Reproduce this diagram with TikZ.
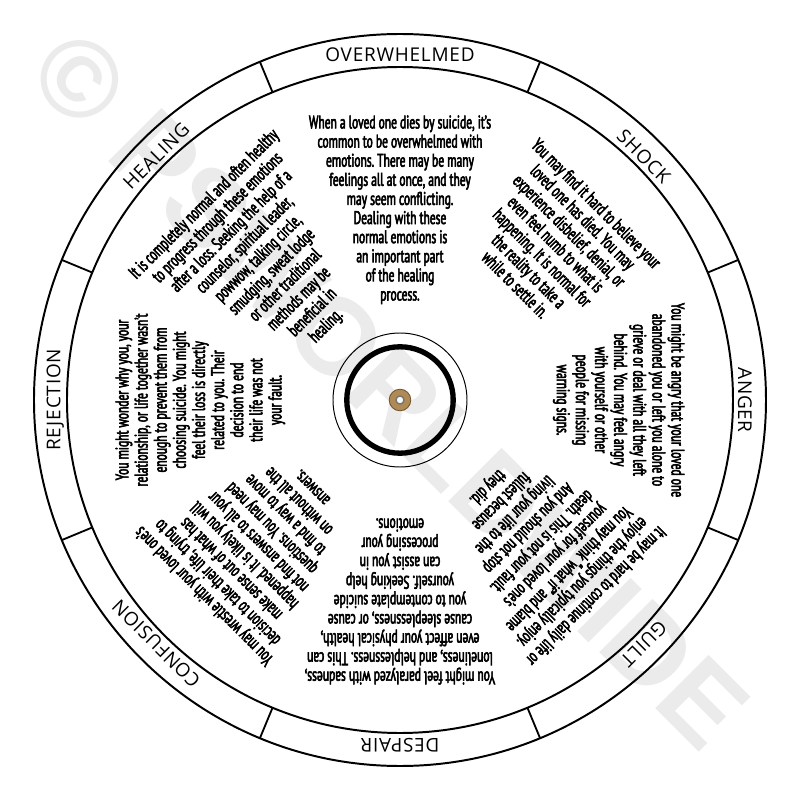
\documentclass[tikz,border=0pt]{standalone}
\usepackage{fontspec}
\usepackage{xcolor}
\usetikzlibrary{positioning}
\newfontfamily\wheelfont[FakeStretch=0.63,FakeBold=3]{PT Sans}
\newfontfamily\labelfont[LetterSpace=4]{Open Sans}
\newfontfamily\markfont{Liberation Sans}
\definecolor{brass}{HTML}{B08A55}
\definecolor{brassdark}{HTML}{6E5330}
\definecolor{mark}{HTML}{EBEBEB}
\frenchspacing
\tikzset{
  % The two rims of the wheel and the spokes between the sectors
  rim/.style={draw=black, line width=1.4pt},
  spokeline/.style={draw=black, line width=1.3pt},
  % Emotion names in the outer band
  emotion/.style={font=\labelfont\fontsize{13.5}{14}\selectfont, inner sep=0pt},
  % The paragraph inside each sector
  wedge/.style={font=\wheelfont\fontsize{13}{13.6}\selectfont,
    align=center, inner sep=0pt, anchor=north},
  % Watermark behind the wheel
  stamp/.style={font=\markfont\bfseries\fontsize{78}{78}\selectfont,
    text=mark, inner sep=0pt},
}
\newcommand{\bandlabel}[3]{%
  \node[emotion, rotate=#1-90] (#2) at (#1:8.62) {#3};}
\newcommand{\sectortext}[3]{%
  \node[wedge, rotate=#1-90] (#2) at (#1:7.12) {#3};}
\newcommand{\bandspoke}[1]{%
  \draw[spokeline] (#1:8.325) -- (#1:9.15);}

\begin{document}
\begin{tikzpicture}

  \useasboundingbox (-10,-10) rectangle (10,10);
  \fill[white] (-10,-10) rectangle (10,10);

  \node[stamp, rotate=-45] (wm) at (-0.25,0.25) {© PSWORLDWIDE};

  % wheel
  \draw[rim] (0,0) circle (9.15);
  \draw[rim] (0,0) circle (8.325);
  \bandspoke{112.5}
  \bandspoke{67.5}
  \bandspoke{22.5}
  \bandspoke{-22.5}
  \bandspoke{-67.5}
  \bandspoke{-112.5}
  \bandspoke{-157.5}
  \bandspoke{157.5}

  \bandlabel{90}{overwhelmed}{OVERWHELMED}
  \bandlabel{45}{shock}{SHOCK}
  \bandlabel{0}{anger}{ANGER}
  \bandlabel{-45}{guilt}{GUILT}
  \bandlabel{-90}{despair}{DESPAIR}
  \bandlabel{-135}{confusion}{CONFUSION}
  \bandlabel{180}{rejection}{REJECTION}
  \bandlabel{135}{healing}{HEALING}

  \sectortext{90}{toptext}{When a loved one dies by suicide, it’s\\
    common to be overwhelmed with\\ emotions. There may be many\\
    feelings all at once, and they\\ may seem conflicting.\\
    Dealing with these\\ normal emotions is\\ an important part\\
    of the healing\\ process.}
  \sectortext{45}{shocktext}{You may find it hard to believe your\\
    loved one has died. You may\\ experience disbelief, denial, or\\
    even feel numb to what is\\ happening. It is normal for\\
    the reality to take a\\ while to settle in.}
  \sectortext{0}{angertext}{You might be angry that your loved one\\
    abandoned you or left you alone to\\ grieve or deal with all they left\\
    behind. You may feel angry\\ with yourself or other\\
    people for missing\\ warning signs.}
  \sectortext{-45}{guilttext}{It may be hard to continue daily life or\\
    enjoy the things you typically enjoy.\\ You may think “what if” and blame\\
    yourself for your loved one’s\\ death. This is not your fault.\\
    And you should not stop\\ living your life to the\\ fullest because\\
    they did.}
  \sectortext{-90}{despairtext}{You might feel paralyzed with sadness,\\
    loneliness, and helplessness. This can\\ even affect your physical health,\\
    cause sleeplessness, or cause\\ you to contemplate suicide\\
    yourself. Seeking help\\ can assist you in\\ processing your\\
    emotions.}
  \sectortext{-135}{confusiontext}{You may wrestle with your loved one’s\\
    decision to take their life, trying to\\ make sense out of what has\\
    happened. It is likely you will\\ not find answers to all your\\
    questions. You may need\\ to find a way to move\\ on without all the\\
    answers.}
  \sectortext{180}{rejectiontext}{You might wonder why you, your\\
    relationship, or life together wasn’t\\ enough to prevent them from\\
    choosing suicide. You might\\ feel their loss is directly\\
    related to you. Their\\ decision to end\\ their life was not\\
    your fault.}
  \sectortext{135}{healingtext}{It is completely normal and often healthy\\
    to progress through these emotions\\ after a loss. Seeking the help of a\\
    counselor, spiritual leader,\\ powwow, talking circle,\\
    smudging, sweat lodge\\ or other traditional\\ methods may be\\
    beneficial in\\ healing.}

  % hub
  \draw[line width=0.7pt] (0,0) circle (1.675);
  \draw[line width=3.8pt] (0,0) circle (1.33);
  \fill[brass, draw=brassdark, line width=0.6pt] (0,0) circle (0.27);
  \fill[white, draw=black!55, line width=1pt] (0,0) circle (0.1);

\end{tikzpicture}
\end{document}
